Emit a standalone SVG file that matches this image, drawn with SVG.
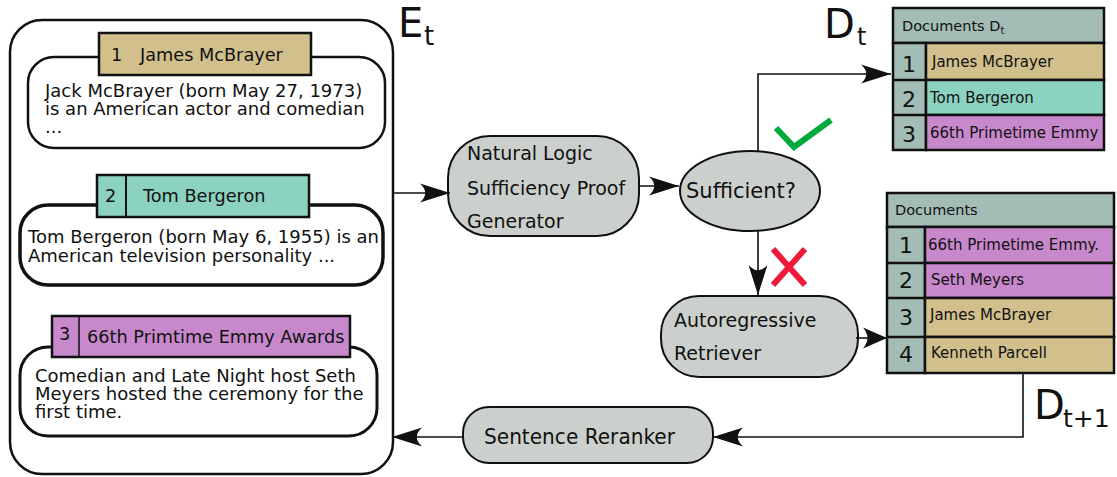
<svg xmlns="http://www.w3.org/2000/svg" width="1117" height="477" viewBox="0 0 1117 477">
<defs>
<style>
text{font-family:"DejaVu Sans","Liberation Sans",sans-serif;fill:#111;}
.card{fill:#fff;stroke:#111;}
.tab{stroke:#111;stroke-width:2.5;}
.tan{fill:#d2c08c;}
.teal{fill:#8cd2c0;}
.purp{fill:#c888cc;}
.hdr{fill:#a3bcb5;}
.node{fill:#ccd0cc;stroke:#111;stroke-width:2;}
.conn{fill:none;stroke:#111;stroke-width:1.6;}
.tbl{stroke:#111;stroke-width:2.5;}
.body{font-size:18px;}
.tabt{font-size:17.7px;}
.num{font-size:22px;text-anchor:middle;}
.row{font-size:15px;}
.nt{font-size:19px;}
.big{font-size:40px;}
</style>
<marker id="arr" viewBox="-32 -11 34 22" refX="0" refY="0" markerWidth="34" markerHeight="22" orient="auto" markerUnits="userSpaceOnUse">
<path d="M0,0 L-30,-9.5 C-23,-3 -23,3 -30,9.5 Z" fill="#111"/>
</marker>
<marker id="arr2" viewBox="-26 -12 28 24" refX="0" refY="0" markerWidth="28" markerHeight="24" orient="auto" markerUnits="userSpaceOnUse">
<path d="M0,0 L-24,-10.5 C-18,-3 -18,3 -24,10.5 Z" fill="#111"/>
</marker>
</defs>
<rect width="1117" height="477" fill="#fff"/>

<g id="evidence">
<rect x="10" y="20" width="383" height="454" rx="32" fill="#fff" stroke="#111" stroke-width="2.5"/>
<text class="big" x="398" y="37">E</text>
<text x="424" y="45" font-size="26">t</text>
</g>

<g id="doc1">
<rect class="card" x="28" y="57" width="357" height="91" rx="26" stroke-width="2.5"/>
<rect class="tab tan" x="99" y="33" width="212" height="42"/>
<text class="tabt" x="111" y="61">1</text>
<text class="tabt" x="140" y="61">James McBrayer</text>
<text class="body" x="45" y="97">Jack McBrayer (born May 27, 1973)</text>
<text class="body" x="45" y="115">is an American actor and comedian</text>
<text class="body" x="45" y="133">...</text>
</g>

<g id="doc2">
<rect class="card" x="20" y="205" width="363" height="80" rx="28" stroke-width="3.5"/>
<rect class="tab teal" x="97" y="175" width="212" height="42"/>
<line x1="126" y1="175" x2="126" y2="217" stroke="#111" stroke-width="2"/>
<text class="tabt" x="105" y="202">2</text>
<text class="tabt" x="143" y="202">Tom Bergeron</text>
<text class="body" x="28" y="243">Tom Bergeron (born May 6, 1955) is an</text>
<text class="body" x="28" y="262">American television personality ...</text>
</g>

<g id="doc3">
<rect class="card" x="20" y="347" width="357" height="89" rx="28" stroke-width="3"/>
<rect class="tab purp" x="52" y="316" width="298" height="41"/>
<line x1="79" y1="316" x2="79" y2="358" stroke="#111" stroke-width="1.5"/>
<text class="tabt" x="59" y="340">3</text>
<text class="tabt" x="87" y="343">66th Primtime Emmy Awards</text>
<text class="body" x="35" y="382">Comedian and Late Night host Seth</text>
<text class="body" x="35" y="400">Meyers hosted the ceremony for the</text>
<text class="body" x="35" y="418">first time.</text>
</g>

<g id="nlg">
<rect class="node" x="448" y="136" width="191" height="100" rx="42"/>
<text class="nt" x="467" y="160">Natural Logic</text>
<text class="nt" x="467" y="195">Sufficiency Proof</text>
<text class="nt" x="467" y="228">Generator</text>
</g>

<g id="sufficient">
<ellipse class="node" cx="750" cy="191" rx="70" ry="40"/>
<text x="686" y="198" font-size="21">Sufficient?</text>
</g>

<g id="check">
<polyline points="776,128 794,147 831,120" fill="none" stroke="#00aa3a" stroke-width="6"/>
</g>
<g id="cross">
<line x1="773" y1="249" x2="805" y2="285" stroke="#ee1a3c" stroke-width="6"/>
<line x1="805" y1="249" x2="773" y2="285" stroke="#ee1a3c" stroke-width="6"/>
</g>

<g id="retriever">
<rect class="node" x="661" y="296" width="197" height="81" rx="38"/>
<text class="nt" x="674" y="327">Autoregressive</text>
<text class="nt" x="674" y="360">Retriever</text>
</g>

<g id="reranker">
<rect class="node" x="463" y="407" width="250" height="56" rx="26" stroke-width="1.6"/>
<text x="484" y="444" font-size="22" textLength="191" lengthAdjust="spacingAndGlyphs">Sentence Reranker</text>
</g>

<g id="docs-t">
<text class="big" x="824" y="38">D</text>
<text x="857" y="45" font-size="24">t</text>
<rect class="tbl hdr" x="893" y="8" width="211" height="35"/>
<text x="902" y="31" font-size="14.5">Documents D<tspan font-size="10" dy="3">t</tspan></text>
<rect class="tbl hdr" x="893" y="43" width="33" height="107"/>
<rect class="tbl tan" x="926" y="43" width="178" height="37"/>
<rect class="tbl teal" x="926" y="80" width="178" height="35"/>
<rect class="tbl purp" x="926" y="115" width="178" height="35"/>
<line class="tbl" x1="893" y1="80" x2="926" y2="80"/>
<line class="tbl" x1="893" y1="115" x2="926" y2="115"/>
<text class="num" x="909" y="72">1</text>
<text class="num" x="909" y="107">2</text>
<text class="num" x="909" y="142">3</text>
<text class="row" x="932" y="67">James McBrayer</text>
<text class="row" x="930" y="103">Tom Bergeron</text>
<text class="row" x="930" y="138">66th Primetime Emmy</text>
</g>

<g id="docs-t1">
<rect class="tbl hdr" x="887" y="193" width="227" height="34"/>
<text x="895" y="215" font-size="14.5">Documents</text>
<rect class="tbl hdr" x="887" y="227" width="38" height="146"/>
<rect class="tbl purp" x="925" y="227" width="189" height="36"/>
<rect class="tbl purp" x="925" y="263" width="189" height="35"/>
<rect class="tbl tan" x="925" y="298" width="189" height="39"/>
<rect class="tbl tan" x="925" y="337" width="189" height="36"/>
<line class="tbl" x1="887" y1="263" x2="925" y2="263"/>
<line class="tbl" x1="887" y1="298" x2="925" y2="298"/>
<line class="tbl" x1="887" y1="337" x2="925" y2="337"/>
<text class="num" x="906" y="253">1</text>
<text class="num" x="906" y="288">2</text>
<text class="num" x="906" y="325">3</text>
<text class="num" x="906" y="362">4</text>
<text class="row" x="928" y="250" font-size="15.5">66th Primetime Emmy.</text>
<text class="row" x="931" y="285">Seth Meyers</text>
<text class="row" x="930" y="320">James McBrayer</text>
<text class="row" x="931" y="358">Kenneth Parcell</text>
<text class="big" x="1034" y="419">D</text>
<text x="1063" y="427" font-size="25">t+1</text>
</g>

<g id="connectors">
<path class="conn" d="M393,193 H450" marker-end="url(#arr)"/>
<path class="conn" d="M639,186 H679" marker-end="url(#arr)"/>
<path class="conn" d="M758,151 V74 H891" marker-end="url(#arr)"/>
<path class="conn" d="M758,231 V295" marker-end="url(#arr)"/>
<path class="conn" d="M856,338 H887" marker-end="url(#arr2)"/>
<path class="conn" d="M1023,373 V437 H713" marker-end="url(#arr)"/>
<path class="conn" d="M463,437 H392" marker-end="url(#arr)"/>
</g>
</svg>
